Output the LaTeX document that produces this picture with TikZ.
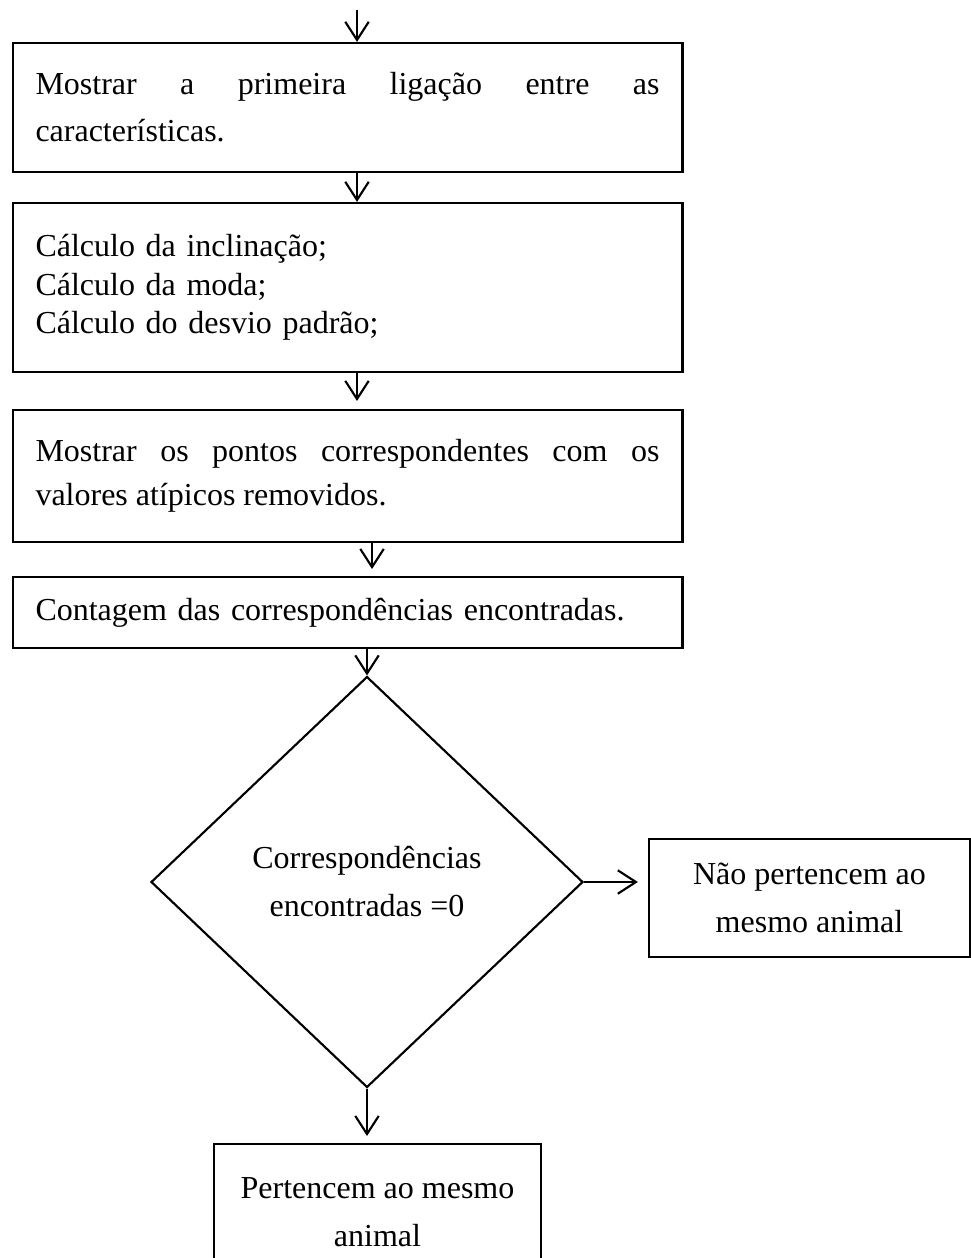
\documentclass[tikz,border=0pt]{standalone}
\usepackage{fontspec}
\setmainfont{Liberation Serif}
\usetikzlibrary{shapes.geometric,arrows.meta}
\begin{document}
\hyphenpenalty=10000 \exhyphenpenalty=10000
\begin{tikzpicture}[x=0.375pt, y=-0.375pt,
  box/.style = {draw, line width=0.8pt, rectangle},
  wide/.style = {box, text width=234pt, inner xsep=8.6pt},
  dec/.style = {draw, line width=0.8pt, diamond, minimum width=162pt, minimum height=154.1pt, align=center, font=\fontsize{12}{18}\selectfont},
  arr/.style = {-{Straight Barb[length=6.8pt,width=8.8pt]}, line width=0.8pt}]
\useasboundingbox (0,0) rectangle (971,1258);

\node[wide, align=justify, minimum height=48.4pt, font=\fontsize{12}{17.6}\selectfont] (ligacao) at (347.5,107.5) {Mostrar a primeira ligação entre as características.};
\node[wide, align=left, minimum height=63.4pt, font=\fontsize{12}{14.4}\selectfont] (calculo) at (347.5,287.5) {Cálculo da inclinação;\\ Cálculo da moda;\\ Cálculo do desvio padrão;};
\node[wide, align=justify, minimum height=49.5pt, font=\fontsize{12}{16.5}\selectfont] (pontos) at (347.5,476) {Mostrar os pontos correspondentes com os valores atípicos removidos.};
\node[wide, align=left, minimum height=26.6pt, font=\fontsize{12}{14.4}\selectfont] (contagem) at (347.5,612.5) {Contagem das correspondências encontradas.};
\node[dec] (teste) at (367,882) {Correspondências\\ encontradas =0};
\node[box, align=center, minimum width=120.4pt, minimum height=44.25pt, font=\fontsize{12}{18}\selectfont] (nao) at (809.5,898) {Não pertencem ao\\ mesmo animal};
\node[box, align=center, minimum width=122.6pt, minimum height=51pt, font=\fontsize{12}{18}\selectfont] (sim) at (377.5,1212) {Pertencem ao mesmo\\ animal};

\coordinate (inicio) at (357,10);
\draw[arr] (inicio) -- (inicio |- ligacao.north);
\draw[arr] (inicio |- ligacao.south) -- (inicio |- calculo.north);
\draw[arr, shorten >=3pt] (inicio |- calculo.south) -- (inicio |- pontos.north);
\draw[arr, shorten >=2.6pt] ([xshift=9.2pt]pontos.south) -- ([xshift=9.2pt]contagem.north);
\draw[arr] (contagem.south -| teste.north) -- (teste.north);
\draw[arr, shorten >=3.75pt] (teste.east) -- (teste.east -| nao.west);
\draw[arr, shorten >=2.6pt] (teste.south) -- (teste.south |- sim.north);
\end{tikzpicture}
\end{document}
